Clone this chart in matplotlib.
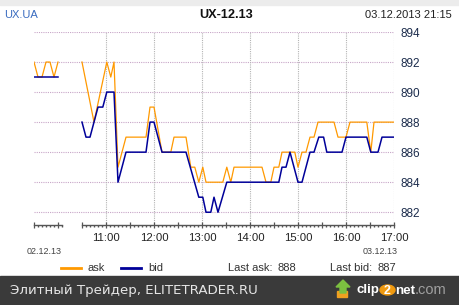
import matplotlib.pyplot as plt
import matplotlib.patches as mpatches
import matplotlib.transforms as mtransforms

# previous session (02.12.13), drawn in the left stub of the axis
prev_ask_t = ["09:30", "09:35", "09:40", "09:45", "09:50", "09:55", "10:00"]
prev_ask = [892, 891, 891, 892, 892, 891, 892]
prev_bid_t = ["09:30", "10:00"]
prev_bid = [891, 891]

# current session (03.12.13)
ask_t = ["10:30", "10:45", "11:01", "11:06", "11:10", "11:15", "11:25", "11:50",
         "11:55", "12:00", "12:10", "12:21", "12:25", "12:40", "12:46", "12:51",
         "12:56", "13:01", "13:05", "13:26", "13:31", "13:36", "13:40", "14:15",
         "14:20", "14:26", "14:30", "14:36", "14:40", "14:56", "15:00", "15:05",
         "15:10", "15:15", "15:20", "15:25", "15:45", "15:50", "16:00", "16:05",
         "16:26", "16:31", "16:35", "17:00"]
ask = [892, 888, 892, 891, 892, 885, 887, 887,
       889, 889, 886, 886, 887, 887, 885, 885,
       884, 885, 884, 884, 885, 884, 885, 885,
       884, 884, 885, 885, 886, 886, 885, 886,
       886, 887, 887, 888, 888, 887, 887, 888,
       888, 886, 888, 888]

bid_t = ["10:30", "10:35", "10:40", "10:45", "10:50", "10:56", "11:01", "11:10",
         "11:15", "11:25", "11:50", "11:55", "12:00", "12:10", "12:40", "12:56",
         "13:01", "13:05", "13:11", "13:15", "13:20", "13:31", "14:36", "14:40",
         "14:45", "14:50", "15:00", "15:05", "15:15", "15:20", "15:26", "15:32",
         "15:36", "15:55", "16:00", "16:26", "16:31", "16:40", "16:45", "17:00"]
bid = [888, 887, 887, 888, 889, 889, 890, 890,
       884, 886, 886, 888, 888, 886, 886, 883,
       883, 882, 882, 883, 882, 884, 884, 885,
       885, 886, 884, 884, 886, 886, 887, 887,
       886, 886, 887, 887, 886, 886, 887, 887]

hour_labels = ["11:00", "12:00", "13:00", "14:00", "15:00", "16:00", "17:00"]
price_ticks = [882, 884, 886, 888, 890, 892, 894]
axis_segments = [("09:30", "10:05"), ("10:30", "17:00")]


def hrs(s):
    h, m = s.split(":")
    return int(h) + int(m) / 60


plt.rcParams['font.family'] = ['Liberation Sans', 'DejaVu Sans']

fig = plt.figure(figsize=(4.6, 3.05), dpi=100)
W, H = 460, 305
ax = fig.add_axes([34 / W, 1 - 225 / H, 360 / W, 193 / H])

ax.plot([hrs(t) for t in prev_ask_t], prev_ask, color='#ff9900', lw=0.9)
ax.plot([hrs(t) for t in prev_bid_t], prev_bid, color='#000099', lw=1.1)
ax.plot([hrs(t) for t in ask_t], ask, color='#ff9900', lw=0.9)
ax.plot([hrs(t) for t in bid_t], bid, color='#000099', lw=1.1)

ax.set_xlim(hrs("09:30"), hrs("17:00"))
ax.set_ylim(881.15, 894)

for v in price_ticks:
    ax.axhline(v, color='#c8a6c8', lw=0.8, ls=(0, (1, 1)), zorder=0)
for lab in hour_labels:
    ax.axvline(hrs(lab), color='#b4b4b4', lw=0.8, ls=(0, (1, 1)), zorder=0)

for s in ['left', 'top', 'bottom', 'right']:
    ax.spines[s].set_visible(False)

# axis line drawn only where there is a session
tr = mtransforms.blended_transform_factory(ax.transData, ax.transAxes)
major, minor = [], []
for a, b in axis_segments:
    ax.plot([hrs(a), hrs(b)], [0, 0], color='#555555', lw=1.0, transform=tr,
            clip_on=False)
    m = int(round(hrs(a) * 60))
    while m <= int(round(hrs(b) * 60)):
        if m % 30 == 0:
            major.append(m / 60)
        else:
            minor.append(m / 60)
        m += 5

ax.set_xticks(major)
ax.set_xticklabels([f"{int(x)}:00" if x >= 11 and x == int(x) else "" for x in major])
ax.set_xticks(minor, minor=True)
ax.tick_params(axis='x', which='major', direction='inout', length=5, width=0.9,
               color='#555555', labelsize=8.2, labelcolor='#222222', pad=3)
ax.tick_params(axis='x', which='minor', direction='out', length=1.5, width=1.0,
               color='#555555')

ax.yaxis.tick_right()
ax.set_yticks(price_ticks)
ax.tick_params(axis='y', length=0, pad=5, labelsize=8.5, labelcolor='#1c2c4c')

# header
fig.patches.append(mpatches.Rectangle((0, 1 - 5 / H), 1, 5 / H, transform=fig.transFigure,
                                      color='#ececec', zorder=0))
fig.text(4 / W, 1 - 15 / H, "UX.UA", color='#3a6cc0', fontsize=8, va='center')
fig.text(226 / W, 1 - 15 / H, "UX-12.13", color='#111111', fontsize=9.2,
         fontweight='bold', ha='center', va='center')
fig.text(452 / W, 1 - 15 / H, "03.12.2013 21:15", color='#222222', fontsize=8,
         ha='right', va='center')

fig.text(44 / W, 1 - 251 / H, "02.12.13", color='#444444', fontsize=6.5,
         ha='center', va='center')
fig.text(380 / W, 1 - 251 / H, "03.12.13", color='#444444', fontsize=6.5,
         ha='center', va='center')

# legend row
ly = 1 - 268 / H
fig.lines.append(plt.Line2D([61 / W, 81 / W], [ly, ly], color='#ff9900', lw=2,
                            transform=fig.transFigure))
fig.text(88 / W, ly, "ask", color='#333333', fontsize=8, va='center')
fig.lines.append(plt.Line2D([121 / W, 141 / W], [ly, ly], color='#000099', lw=2,
                            transform=fig.transFigure))
fig.text(148 / W, ly, "bid", color='#333333', fontsize=8, va='center')
fig.text(228 / W, ly, "Last ask:", color='#333333', fontsize=8, va='center')
fig.text(278 / W, ly, str(ask[-1]), color='#333333', fontsize=8, va='center')
fig.text(330 / W, ly, "Last bid:", color='#333333', fontsize=8, va='center')
fig.text(378 / W, ly, str(bid[-1]), color='#333333', fontsize=8, va='center')

# footer bar
fig.patches.append(mpatches.Rectangle((0, 0), 1, 29 / H, transform=fig.transFigure,
                                      color='#3a3a3a', zorder=0))
fy = 1 - 290.5 / H
fig.text(10 / W, fy, "Элитный Трейдер, ELITETRADER.RU", color='#e6e6e6',
         fontsize=9.6, family=['DejaVu Sans'], va='center')
fig.patches.append(mpatches.Rectangle((337 / W, 1 - 297 / H), 10 / W, 6 / H,
                                      transform=fig.transFigure, color='#f0a020'))
fig.patches.append(mpatches.Polygon([(340 / W, 1 - 293 / H), (340 / W, 1 - 287 / H),
                                     (336 / W, 1 - 287 / H), (343 / W, 1 - 280 / H),
                                     (350 / W, 1 - 287 / H), (346 / W, 1 - 287 / H),
                                     (346 / W, 1 - 293 / H)],
                                    transform=fig.transFigure, color='#7cc040'))
fig.text(357 / W, fy, "clip", color='white', fontsize=9.5, fontweight='bold', va='center')
fig.patches.append(mpatches.Circle((387.5 / W, 1 - 290 / H), 7.5 / W,
                                   transform=fig.transFigure, color='#f09a10'))
fig.text(387.5 / W, fy, "2", color='white', fontsize=9, fontweight='bold',
         ha='center', va='center')
fig.text(395 / W, fy, "net", color='white', fontsize=9.6, fontweight='bold', va='center')
fig.text(415 / W, fy, ".com", color='#a0a0a0', fontsize=10.5, va='center')

fig.savefig("out.png", dpi=100)
